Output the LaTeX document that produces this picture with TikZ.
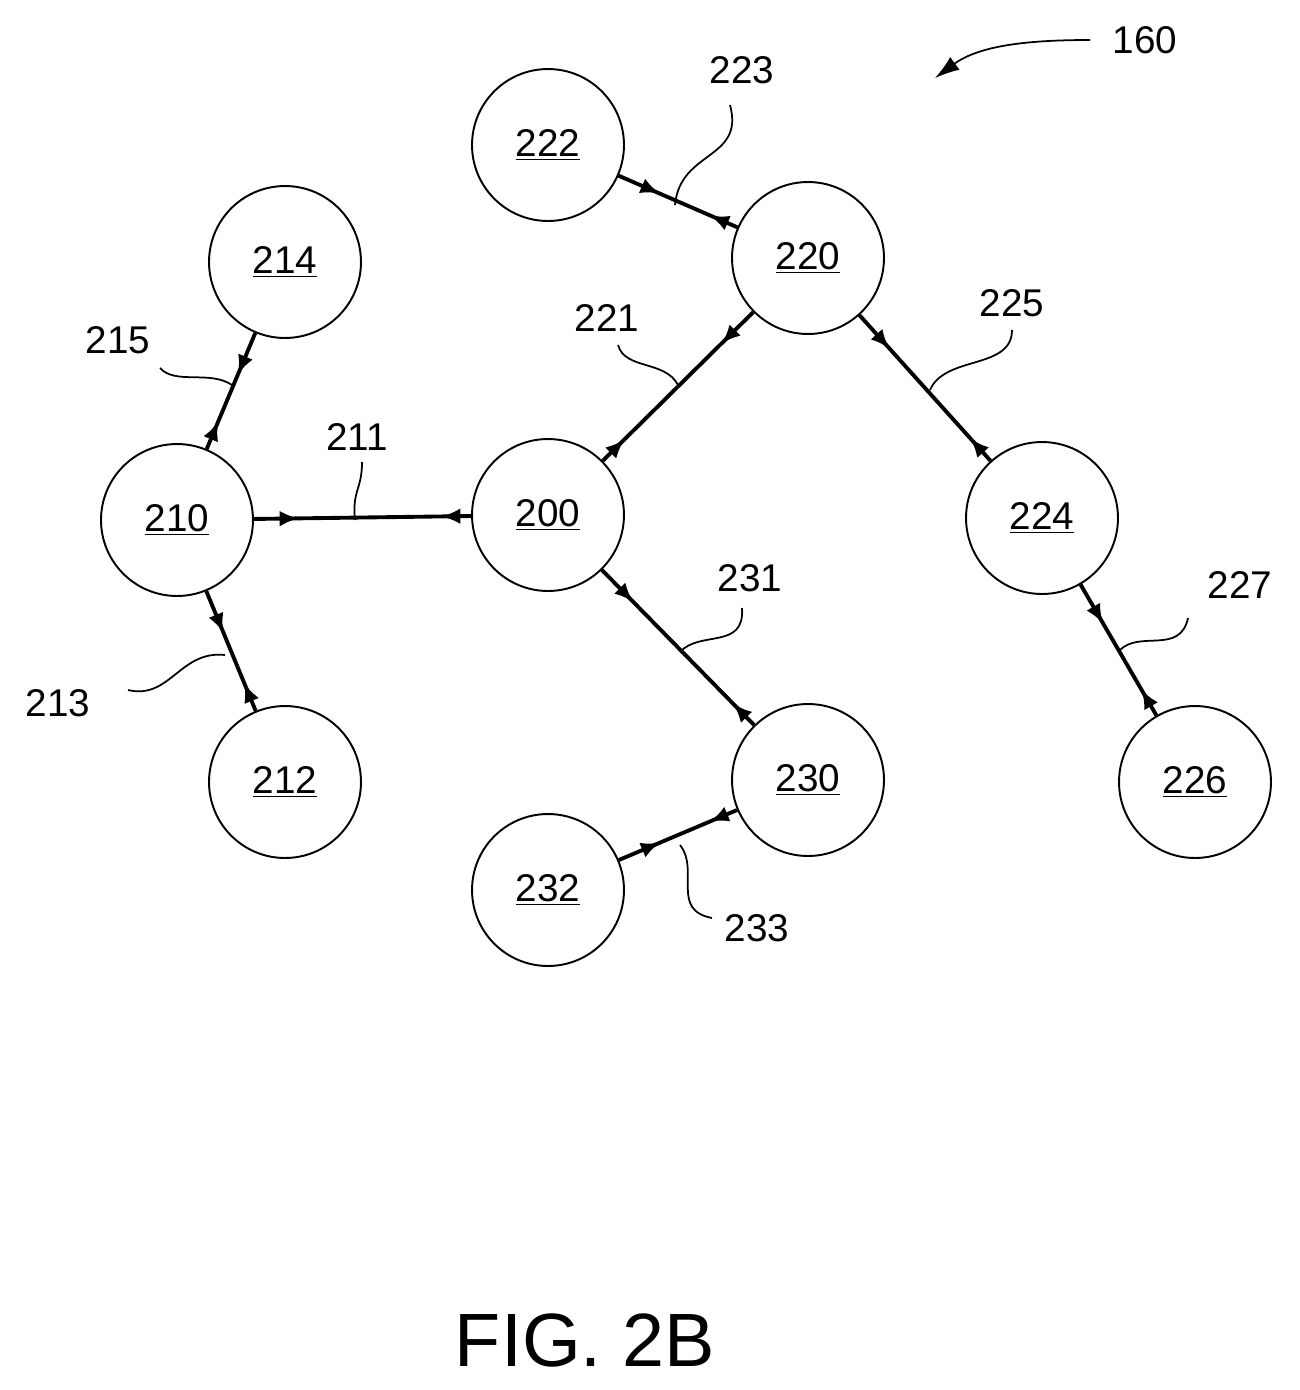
\documentclass[tikz,border=0pt]{standalone}
\usepackage{fontspec}
\setmainfont{Liberation Sans}
\usetikzlibrary{arrows.meta,decorations.markings}
\begin{document}
\begin{tikzpicture}[x=0.02cm,y=-0.02cm,
  nd/.style={circle,draw,line width=1.1pt,minimum size=3.04cm,inner sep=0pt,font=\fontsize{22}{26}\selectfont},
  edge/.style={line width=2.2pt,postaction={decorate},decoration={markings,
     mark=at position 0.9cm with {\arrow{Latex[length=11pt,width=9pt]}},
     mark=at position -0.6cm with {\arrowreversed{Latex[length=11pt,width=9pt]}}}},
  lbl/.style={font=\fontsize{22}{26}\selectfont},
  lead/.style={line width=1pt}]
\useasboundingbox (0,0) rectangle (1300,1390);
\node[nd] (200) at (548,515) {\underline{200}};
\node[nd] (210) at (177,520) {\underline{210}};
\node[nd] (212) at (285,782) {\underline{212}};
\node[nd] (214) at (285,262) {\underline{214}};
\node[nd] (220) at (808,258) {\underline{220}};
\node[nd] (222) at (548,145) {\underline{222}};
\node[nd] (224) at (1042,518) {\underline{224}};
\node[nd] (226) at (1195,782) {\underline{226}};
\node[nd] (230) at (808,780) {\underline{230}};
\node[nd] (232) at (548,890) {\underline{232}};
\draw[edge] (210) -- (200);
\draw[edge] (214) -- (210);
\draw[edge] (210) -- (212);
\draw[edge] (220) -- (200);
\draw[edge] (222) -- (220);
\draw[edge] (220) -- (224);
\draw[edge] (224) -- (226);
\draw[edge] (200) -- (230);
\draw[edge] (232) -- (230);
\node[lbl] (l211) at (357,437) {211};
\node[lbl] (l215) at (118,340) {215};
\node[lbl] (l213) at (58,703) {213};
\node[lbl] (l221) at (607,318) {221};
\node[lbl] (l223) at (742,70) {223};
\node[lbl] (l225) at (1012,303) {225};
\node[lbl] (l231) at (750,578) {231};
\node[lbl] (l227) at (1240,585) {227};
\node[lbl] (l233) at (757,928) {233};
\node[lbl] (l160) at (1145,40) {160};
\draw[lead] (362,462) .. controls (362,490) and (352,490) .. (355,520);
\draw[lead] (160,368) .. controls (175,385) and (210,370) .. (232,385);
\draw[lead] (128,690) .. controls (170,700) and (180,650) .. (225,655);
\draw[lead] (618,345) .. controls (625,370) and (665,360) .. (678,385);
\draw[lead] (730,105) .. controls (745,160) and (680,150) .. (675,205);
\draw[lead] (1012,330) .. controls (1012,370) and (945,355) .. (930,390);
\draw[lead] (742,608) .. controls (745,650) and (700,630) .. (680,652);
\draw[lead] (1188,618) .. controls (1180,655) and (1140,630) .. (1120,650);
\draw[lead] (712,918) .. controls (670,910) and (700,870) .. (680,845);
\draw[lead,-{Latex[length=14pt,width=9pt]}] (1090,40) .. controls (1030,40) and (980,45) .. (935,78);
\node[font=\fontsize{43}{50}\selectfont] (fig) at (585,1340) {FIG. 2B};
\end{tikzpicture}
\end{document}
